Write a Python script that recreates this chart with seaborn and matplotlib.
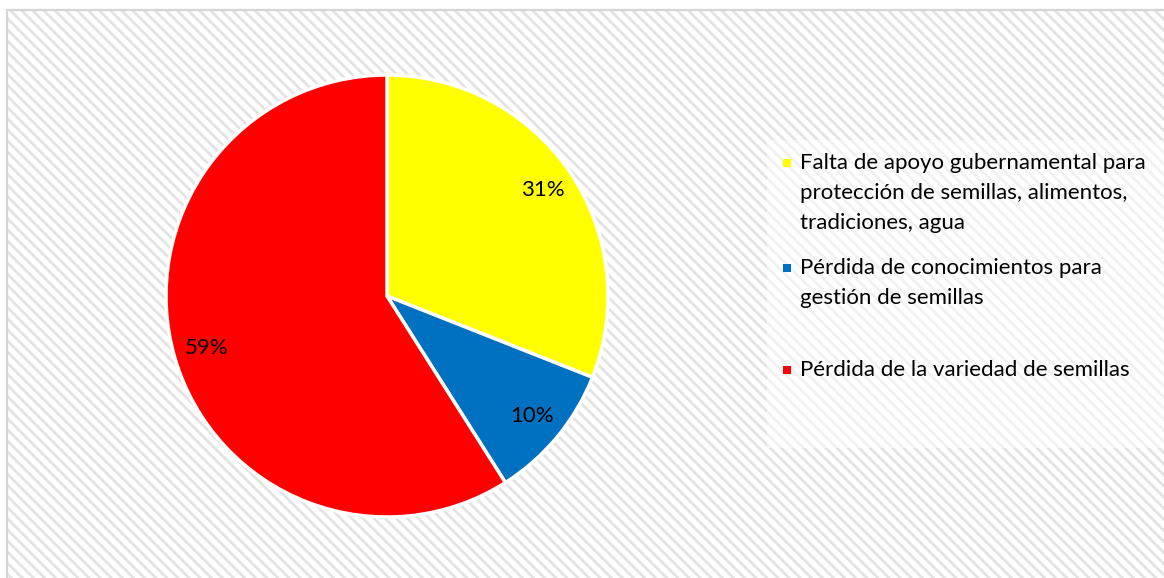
import matplotlib
matplotlib.use("Agg")
import matplotlib.pyplot as plt
from matplotlib.patches import Rectangle
import seaborn as sns

# Data
categories = [
    "Falta de apoyo gubernamental para\nprotección de semillas, alimentos,\ntradiciones, agua",
    "Pérdida de conocimientos para\ngestión de semillas",
    "Pérdida de la variedad de semillas",
]
values = [31, 10, 59]
colors = ["#FFFF00", "#0070C0", "#FF0000"]

sns.set_theme(style="white")
plt.rcParams["font.family"] = ["Lato", "DejaVu Sans"]
plt.rcParams["hatch.linewidth"] = 2.0

W, H = 1164, 578
fig = plt.figure(figsize=(W / 100, H / 100), dpi=100, facecolor="white")

def fx(px):
    return px / W

def fy(py):
    return 1 - py / H

# Hatched chart-area background
fig.patches.append(Rectangle((fx(7), fy(590)), fx(1180) - fx(7), fy(10) - fy(590),
                             transform=fig.transFigure, facecolor="white",
                             edgecolor="#e3e3e3", linewidth=0, hatch="\\\\\\", zorder=0))
fig.patches.append(Rectangle((fx(7), fy(590)), fx(1180) - fx(7), fy(10) - fy(590),
                             transform=fig.transFigure, facecolor="none",
                             edgecolor="#d6d6d6", linewidth=1.6, zorder=0.5))

# Legend panel
fig.patches.append(Rectangle((fx(767), fy(448)), fx(1170) - fx(767), fy(140) - fy(448),
                             transform=fig.transFigure, facecolor="white", alpha=0.5,
                             edgecolor="none", zorder=1))

# Pie
cx, cy, r = 387, 296, 221
ax = fig.add_axes([fx(cx - r), fy(cy + r), fx(2 * r), (2 * r) / H])
ax.set_zorder(2)
ax.set_facecolor("none")
wedges, texts, autotexts = ax.pie(
    values, colors=colors, startangle=90, counterclock=False,
    autopct=lambda p: f"{p:.0f}%", pctdistance=0.85,
    wedgeprops=dict(edgecolor="white", linewidth=2.5),
    textprops=dict(fontsize=16, color="black"),
)
ax.set_xlim(-1.0, 1.0)
ax.set_ylim(-1.0, 1.0)
ax.set_aspect("equal")
ax.axis("off")

# Legend entries
entry_tops = [163, 268, 370]
line_step = 30
for label, color, y0 in zip(categories, colors, entry_tops):
    fig.patches.append(Rectangle((fx(783), fy(y0 + 4)), fx(8), 8 / H,
                                 transform=fig.transFigure, facecolor=color,
                                 edgecolor="none", zorder=3))
    for i, line in enumerate(label.split("\n")):
        fig.text(fx(800), fy(y0 + i * line_step), line, fontsize=16,
                 color="black", va="center", ha="left", zorder=4)

fig.savefig("out.png", dpi=100, facecolor="white")
